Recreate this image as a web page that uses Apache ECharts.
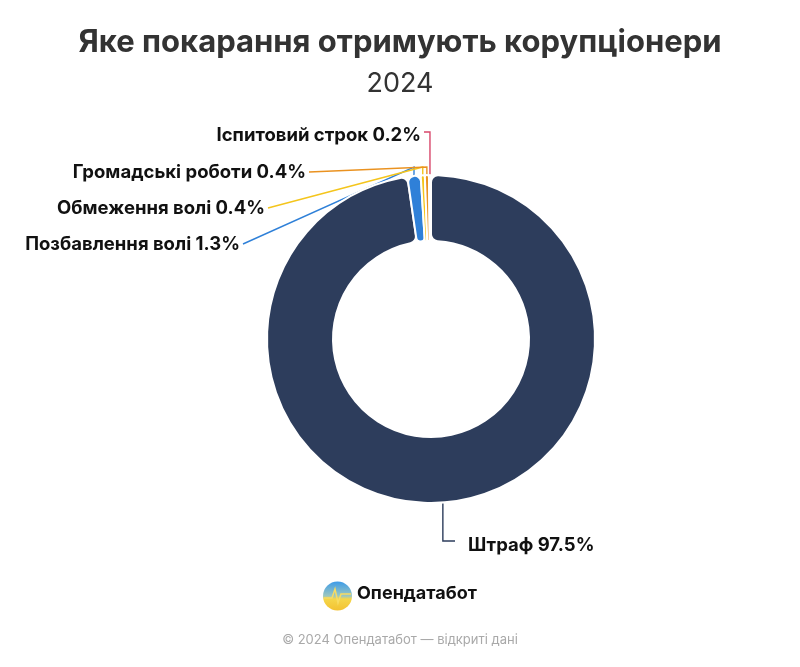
<!DOCTYPE html>
<html>
<head>
<meta charset="utf-8">
<title>Яке покарання отримують корупціонери</title>
<script src="https://cdn.jsdelivr.net/npm/echarts@6/dist/echarts.min.js"></script>
<style>
  html, body { margin: 0; padding: 0; background: #fff; }
  #mainChart { width: 800px; height: 667px; }
</style>
</head>
<body>
<div id="mainChart"></div>
<script>
'use strict'
// дані
var categories = ['Штраф', 'Позбавлення волі', 'Обмеження волі', 'Громадські роботи', 'Іспитовий строк'];
var shares = [97.5, 1.3, 0.4, 0.4, 0.2];
var colors = ['#2d3d5c', '#2f80d8', '#f4c51c', '#ea9220', '#d8476b'];

// куди ставити підписи (x, y, вирівнювання)
var labelSpots = [
    {x: 468, y: 545, align: 'left'},
    {x: 240, y: 244, align: 'right'},
    {x: 265, y: 208, align: 'right'},
    {x: 306, y: 172, align: 'right'},
    {x: 421, y: 135, align: 'right'}
];

var font = 'Inter, "Noto Sans", sans-serif';

var myChart = echarts.init(document.getElementById('mainChart'));
myChart.setOption({
    animation: false,
    title: {
        text: 'Яке покарання отримують корупціонери',
        subtext: '2024',
        left: 'center',
        top: 22,
        itemGap: 12,
        textStyle: {fontFamily: font, fontSize: 31, fontWeight: 'bold', color: '#333'},
        subtextStyle: {fontFamily: font, fontSize: 27, color: '#333'}
    },
    series: [
        {
            type: 'pie',
            center: [431, 339],
            radius: [98, 164],
            startAngle: 90,
            clockwise: true,
            avoidLabelOverlap: false,
            itemStyle: {borderColor: '#fff', borderWidth: 2, borderRadius: 7},
            label: {
                show: true,
                formatter: '{b} {c}%',
                fontFamily: font,
                fontSize: 18.5,
                fontWeight: 'bold',
                color: '#111'
            },
            labelLine: {show: true, length: 20, length2: 10, lineStyle: {width: 1.4}},
            labelLayout: function (params) {
                var i = params.dataIndex;
                var s = labelSpots[i];
                var p0 = params.labelLinePoints ? params.labelLinePoints[0] : [431, 175];
                var pts;
                if (i === 0) {
                    pts = [p0, [p0[0], 541], [455, 541]];
                } else if (i === 4) {
                    pts = [p0, [p0[0], 132], [s.x + 3, 132]];
                } else {
                    pts = [p0, [p0[0], 167], [s.x + 3, s.y]];
                }
                return {x: s.x, y: s.y, align: s.align, verticalAlign: 'middle', labelLinePoints: pts};
            },
            data: categories.map(function (name, i) {
                return {name: name, value: shares[i], itemStyle: {color: colors[i]}};
            })
        }
    ],
    graphic: [
        {
            type: 'circle',
            shape: {cx: 337.5, cy: 596, r: 14.5},
            style: {
                fill: new echarts.graphic.LinearGradient(0, 0, 0, 1, [
                    {offset: 0, color: '#3d9be9'},
                    {offset: 0.5, color: '#9cc7c0'},
                    {offset: 0.6, color: '#f5d64a'},
                    {offset: 1, color: '#f3c232'}
                ])
            }
        },
        {
            type: 'polyline',
            shape: {points: [[324, 598], [332, 598], [335, 589], [338, 603], [341, 594], [351, 594]]},
            style: {stroke: '#f7dc63', lineWidth: 1.5, fill: null}
        },
        {
            type: 'text',
            left: 357,
            top: 585,
            style: {text: 'Опендатабот', fontFamily: font, fontSize: 18, fontWeight: 'bold', fill: '#111'}
        },
        {
            type: 'text',
            left: 'center',
            top: 634,
            style: {text: '© 2024 Опендатабот — відкриті дані', fontFamily: font, fontSize: 13, fill: '#a9a9a9'}
        }
    ]
});
</script>
</body>
</html>
